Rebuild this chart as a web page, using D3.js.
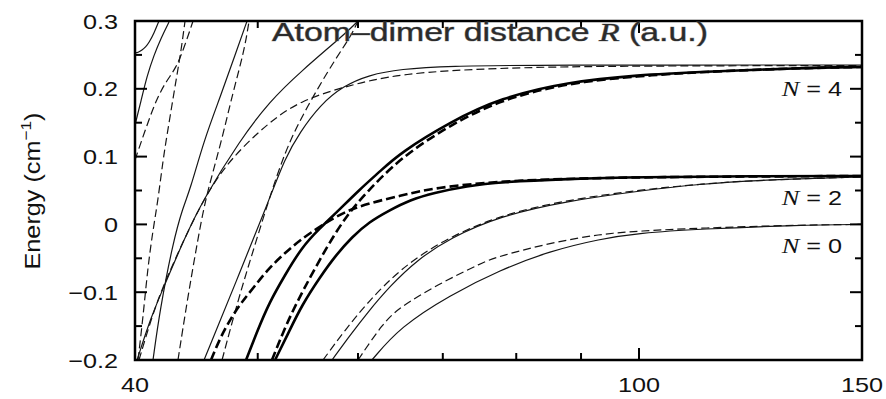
<!DOCTYPE html>
<html>
<head>
<meta charset="utf-8">
<script src="https://cdn.jsdelivr.net/npm/d3@7"></script>
<style>
  body { margin: 0; background: #fff; }
  svg { display: block; }
</style>
</head>
<body>
<svg id="chart" width="886" height="399"></svg>
<script>
// potential curves, [R (a.u.), energy (cm^-1)]
const thinA = [[40.0,0.253],[40.22,0.2535],[40.51,0.257],[40.8,0.262],[41.03,0.268],[41.41,0.282],[41.78,0.300]]
const thinB = [[40.0,0.1466],[40.44,0.182],[40.88,0.2189],[41.41,0.2499],[41.94,0.2749],[42.55,0.2985]]
const thinC = [[40.0,0.095],[40.88,0.1466],[41.63,0.1864],[42.40,0.213],[43.10,0.2307],[43.73,0.2602],[44.45,0.300]]
const thinD = [[40.22,-0.2],[40.59,-0.1366],[40.95,-0.062],[41.33,-0.0083],[41.71,0.036],[42.09,0.095],[42.40,0.1319],[42.78,0.1761],[43.17,0.2204],[43.49,0.2558],[43.81,0.300]]
const thinE = [[41.33,-0.2],[41.86,-0.1254],[42.86,-0.0265],[43.65,0.0257],[44.21,0.0507],[45.35,0.1245],[46.77,0.1909],[47.98,0.2499],[49.04,0.300]]
const thinF = [[40.15,-0.2],[41.18,-0.1366],[42.17,-0.0914],[43.73,-0.022],[45.26,0.036],[48.42,0.1245],[51.13,0.182],[54.0,0.2248],[58.71,0.2823],[60.0,0.300]]
const thinG = [[40.29,-0.2],[41.41,-0.1254],[42.40,-0.0776],[43.97,-0.0127],[45.59,0.0463],[47.63,0.0979],[51.04,0.151],[54.0,0.182],[58.39,0.2027],[64.76,0.2233],[77.68,0.2307],[93.16,0.2336],[150,0.2344]]
const thinH = [[43.25,-0.2],[43.97,-0.1142],[44.69,-0.0378],[45.26,0.0183],[45.76,0.0566],[46.86,0.126],[47.80,0.1953],[48.77,0.2543],[49.22,0.300]]
const thinS4 = [[45.35,-0.2],[48.06,-0.085],[51.04,0.036],[52.54,0.0979],[54.0,0.1363],[56.0,0.1761],[58.39,0.2041],[61.21,0.2204],[64.76,0.2292],[70.93,0.2336],[82.47,0.2351],[150,0.2351]]
const thinD5 = [[46.86,-0.2],[48.24,-0.1115],[49.66,-0.0348],[51.13,0.0419],[52.54,0.1068],[54.0,0.154],[55.79,0.2012],[57.65,0.2454],[59.24,0.2779],[60.0,0.300]]
const thinN2d = [[56.30,-0.2],[58.60,-0.1558],[61.0,-0.1159],[64.76,-0.0658],[70.0,-0.023],[77.68,0.0139],[87.74,0.036],[100,0.0507],[111.7,0.0596],[124.6,0.0655],[150,0.0699]]
const thinN2s = [[57.23,-0.2],[59.24,-0.1617],[61.0,-0.1307],[63.59,-0.0909],[66.79,-0.0525],[70.93,-0.0201],[77.68,0.0124],[87.74,0.0345],[100,0.0493],[111.7,0.0596],[124.6,0.0655],[150,0.0699]]
const thinN0d = [[60.0,-0.2],[62.79,-0.1454],[64.76,-0.1218],[69.27,-0.0894],[75.32,-0.0555],[77.68,-0.0466],[85.06,-0.0274],[93.16,-0.0142],[100,-0.0097],[111.7,-0.0053],[134,-0.0009],[150,0.0]]
const thinN0s = [[61.54,-0.2],[64.76,-0.1513],[70.93,-0.1041],[77.68,-0.0673],[85.06,-0.0392],[93.16,-0.0215],[100,-0.0127],[111.7,-0.0068],[134,-0.0009],[150,0.0]]
const thickN4s = [[48.95,-0.2],[50.0,-0.1558],[51.04,-0.1159],[52.54,-0.0746],[54.19,-0.0333],[56.0,-0.0053],[57.65,0.0168],[60.11,0.0507],[62.5,0.0788],[64.76,0.1053],[70.93,0.151],[77.68,0.1864],[87.74,0.21],[100,0.2204],[111.7,0.2248],[134,0.2307],[150,0.2322]]
const thickN4d = [[51.31,-0.2],[52.63,-0.1484],[54.19,-0.0997],[56.92,-0.0274],[58.82,0.0139],[60.88,0.0463],[64.76,0.0979],[70.93,0.1466],[77.68,0.1835],[87.74,0.2086],[100,0.2189],[111.7,0.2248],[134,0.2307],[150,0.2322]]
const thickN2s = [[51.6,-0.2],[53.0,-0.1558],[54.19,-0.1189],[56.0,-0.0776],[57.65,-0.0451],[59.35,-0.0186],[61.21,0.0035],[63.59,0.0212],[65.95,0.036],[68.77,0.0463],[73.16,0.0566],[77.68,0.0625],[87.74,0.067],[100,0.0699],[122.4,0.0712],[150,0.0714]]
const thickN2d = [[45.93,-0.2],[46.69,-0.1676],[47.63,-0.138],[48.51,-0.1159],[49.66,-0.0923],[51.04,-0.0643],[52.54,-0.0422],[54.0,-0.023],[56.2,-0.0009],[59.35,0.0257],[65.23,0.0434],[68.77,0.0537],[77.68,0.064],[87.74,0.067],[100,0.0699],[150,0.0714]]

const curves = [
  {pts: thinA, w: 'thin', dash: false},
  {pts: thinB, w: 'thin', dash: false},
  {pts: thinC, w: 'thin', dash: true},
  {pts: thinD, w: 'thin', dash: true},
  {pts: thinE, w: 'thin', dash: false},
  {pts: thinF, w: 'thin', dash: false},
  {pts: thinG, w: 'thin', dash: true},
  {pts: thinH, w: 'thin', dash: true},
  {pts: thinS4, w: 'thin', dash: false},
  {pts: thinD5, w: 'thin', dash: true},
  {pts: thinN2d, w: 'thin', dash: true},
  {pts: thinN2s, w: 'thin', dash: false},
  {pts: thinN0d, w: 'thin', dash: true},
  {pts: thinN0s, w: 'thin', dash: false},
  {pts: thickN2d, w: 'thick', dash: true},
  {pts: thickN4d, w: 'thick', dash: true},
  {pts: thickN2s, w: 'thick', dash: false},
  {pts: thickN4s, w: 'thick', dash: false}
]

const xMajor = [40, 100, 150]
const xMinor = [50, 60, 70, 80, 90]
const yMajor = [-0.2, -0.1, 0, 0.1, 0.2, 0.3]
const yMinor = [-0.15, -0.05, 0.05, 0.15, 0.25]
const yLabels = ['\u22120.2', '\u22120.1', '0', '0.1', '0.2', '0.3']
const levelNames = ['4', '2', '0']
const levelAt = [0.2, 0.04, -0.031]

const plotL = 135, plotR = 862, plotT = 21, plotB = 360

let svg = d3.select('#chart')

let x = d3.scaleLog().domain([40, 150]).range([plotL, plotR])
let y = d3.scaleLinear().domain([-0.2, 0.3]).range([plotB, plotT])

// stretch text a little wider, like the original lettering
let widen = (sel, k) => {
  sel.each(function(){
    let len = this.getComputedTextLength()
    d3.select(this).attr('textLength', len * k).attr('lengthAdjust', 'spacingAndGlyphs')
  })
}

svg.append('defs').append('clipPath').attr('id', 'plot')
   .append('rect').attr('x', plotL).attr('y', plotT)
   .attr('width', plotR - plotL).attr('height', plotB - plotT)

// basis spline smooths out the reading noise of the traced points
let line = d3.line()
  .x(d => x(d[0]))
  .y(d => y(d[1]))
  .curve(d3.curveBasis)

svg.append('g').attr('clip-path', 'url(#plot)')
  .selectAll('path')
  .data(curves)
  .enter()
  .append('path')
  .attr('d', d => line(d.pts))
  .attr('fill', 'none')
  .attr('stroke', d => d.w === 'thick' ? '#000' : '#151515')
  .attr('stroke-width', d => d.w === 'thick' ? 2.6 : 1.2)
  .attr('stroke-dasharray', d => d.dash ? (d.w === 'thick' ? '9,4' : '8,4') : null)

// ticks, pointing inward on all four sides
let ticks = svg.append('g').attr('stroke', '#000').attr('stroke-width', 2)
let tickX = (vals, len) => {
  vals.forEach(v => {
    ticks.append('line').attr('x1', x(v)).attr('x2', x(v)).attr('y1', plotB).attr('y2', plotB - len)
    ticks.append('line').attr('x1', x(v)).attr('x2', x(v)).attr('y1', plotT).attr('y2', plotT + len)
  })
}
let tickY = (vals, len) => {
  vals.forEach(v => {
    ticks.append('line').attr('x1', plotL).attr('x2', plotL + len).attr('y1', y(v)).attr('y2', y(v))
    ticks.append('line').attr('x1', plotR).attr('x2', plotR - len).attr('y1', y(v)).attr('y2', y(v))
  })
}
tickX(xMajor, 12)
tickX(xMinor, 7)
tickY(yMajor, 12)
tickY(yMinor, 7)

svg.append('rect')
   .attr('x', plotL).attr('y', plotT)
   .attr('width', plotR - plotL).attr('height', plotB - plotT)
   .attr('fill', 'none').attr('stroke', '#000').attr('stroke-width', 2.5)

let font = '"Liberation Sans", Arial, sans-serif'

svg.append('g').selectAll('text')
  .data(yMajor)
  .enter()
  .append('text')
  .attr('x', 118)
  .attr('y', d => y(d))
  .attr('dy', '0.36em')
  .attr('text-anchor', 'end')
  .attr('font-family', font)
  .attr('font-size', 21)
  .attr('fill', '#111')
  .text((d, i) => yLabels[i])
  .call(widen, 1.2)

svg.append('g').selectAll('text')
  .data(xMajor)
  .enter()
  .append('text')
  .attr('x', d => x(d))
  .attr('y', 392)
  .attr('text-anchor', 'middle')
  .attr('font-family', font)
  .attr('font-size', 21)
  .attr('fill', '#111')
  .text(d => d)
  .call(widen, 1.2)

// level labels N = 4, 2, 0
levelNames.forEach((n, i) => {
  let t = svg.append('text')
    .attr('x', 842)
    .attr('y', y(levelAt[i]))
    .attr('dy', '0.36em')
    .attr('text-anchor', 'end')
    .attr('font-family', font)
    .attr('font-size', 21)
    .attr('fill', '#111')
  t.append('tspan').attr('font-family', '"Liberation Serif", "Times New Roman", serif')
   .attr('font-style', 'italic').attr('font-size', 22).text('N')
  t.append('tspan').text(' = ' + n)
  t.call(widen, 1.2)
})

// y axis title
let yt = svg.append('text')
  .attr('transform', 'translate(40,191) rotate(-90)')
  .attr('text-anchor', 'middle')
  .attr('font-family', font)
  .attr('font-size', 22)
  .attr('fill', '#111')
yt.append('tspan').text('Energy (cm')
yt.append('tspan').attr('font-size', 15).attr('dy', -9).text('\u22121')
yt.append('tspan').attr('dy', 9).text(')')
yt.attr('textLength', 157).attr('lengthAdjust', 'spacingAndGlyphs')

// x axis title, sitting on the top frame
let xt = svg.append('text')
  .attr('x', 272)
  .attr('y', 41)
  .attr('font-family', font)
  .attr('font-size', 26)
  .attr('fill', '#2b2b2b')
  .attr('stroke', '#8a8a8a')
  .attr('stroke-width', 0.7)
  .attr('paint-order', 'stroke')
xt.append('tspan').text('Atom\u2013dimer distance ')
xt.append('tspan').attr('font-family', '"Liberation Serif", "Times New Roman", serif')
  .attr('font-style', 'italic').text('R')
xt.append('tspan').text(' (a.u.)')
xt.attr('textLength', 436).attr('lengthAdjust', 'spacingAndGlyphs')
</script>
</body>
</html>
